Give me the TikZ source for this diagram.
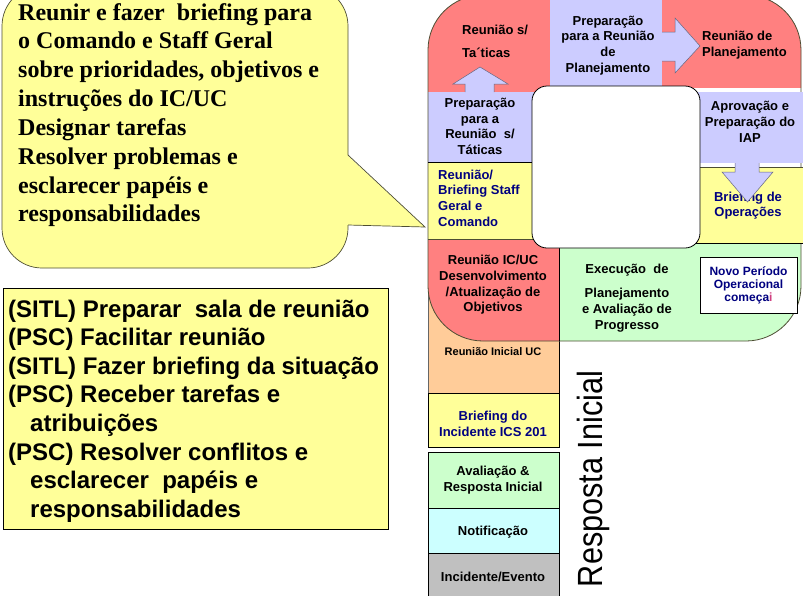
\documentclass[tikz,border=0pt]{standalone}
\usepackage{fontspec}
\usepackage{graphicx}
\setmainfont{Liberation Serif}
\newfontfamily\arialf{Liberation Sans}
\definecolor{redc}{HTML}{FF8080}
\definecolor{lav}{HTML}{CCCCFF}
\definecolor{yel}{HTML}{FFFF99}
\definecolor{grn}{HTML}{CCFFCC}
\definecolor{org}{HTML}{FFCC99}
\definecolor{cyn}{HTML}{CCFFFF}
\definecolor{gry}{HTML}{C0C0C0}
\definecolor{navyc}{HTML}{000080}
\definecolor{edge}{HTML}{4D4D33}
\definecolor{pinki}{HTML}{D04080}
\tikzset{
  lbl/.style={font=\arialf\bfseries\fontsize{13}{15.7}\selectfont, align=center, inner sep=0pt, text=black},
  stembox/.style={draw=black, line width=0.6pt},
  arrowline/.style={draw=lav!50!black, line width=0.5pt},
}
\begin{document}
\begin{tikzpicture}[x=1pt,y=-1pt]
\useasboundingbox (0,0) rectangle (803,595);
% ---------- callout ----------
\filldraw[fill=yel, draw=edge, line width=0.7pt, rounded corners=40pt] (2,-14) rectangle (348,268);
\fill[yel] (347,155) -- (425,227) -- (347,225) -- cycle;
\draw[edge, line width=0.7pt] (348,155) -- (425,227) -- (348,225);
\node[anchor=base west, inner sep=0pt, font=\bfseries\fontsize{24}{28.85}\selectfont] (calltext) at (18,20)
 {\vtop{\hbox{Reunir e fazer~ briefing para}\hbox{o Comando e Staff Geral}\hbox{sobre prioridades, objetivos e}\hbox{instruções do IC/UC}\hbox{Designar tarefas}\hbox{Resolver problemas e}\hbox{esclarecer papéis e}\hbox{responsabilidades}}};
% ---------- tasks box ----------
\filldraw[fill=yel, draw=black, line width=0.8pt] (3,288) rectangle (388,529);
\node[anchor=base west, inner sep=0pt, font=\arialf\bfseries\fontsize{24}{28.6}\selectfont] (tasks) at (8,317)
 {\vtop{\hbox{(SITL) Preparar~ sala de reunião}\hbox{(PSC) Facilitar reunião}\hbox{(SITL) Fazer briefing da situação}\hbox{(PSC) Receber tarefas e}\hbox{\hspace{22pt}atribuições}\hbox{(PSC) Resolver conflitos e}\hbox{\hspace{22pt}esclarecer~ papéis e}\hbox{\hspace{22pt}responsabilidades}}};
% ---------- stem ----------
\fill[org] (428,290) rectangle (559,393);
\draw[black!60, line width=0.6pt] (428,290) -- (428,393);
\draw[black, line width=0.6pt] (428,393) -- (559,393) -- (559,290);
\filldraw[fill=yel, stembox] (428,393) rectangle (559,447);
\filldraw[fill=grn, stembox] (428,452) rectangle (559,508);
\filldraw[fill=cyn, stembox] (428,508) rectangle (559,553);
\filldraw[fill=gry, stembox] (428,553) rectangle (559,600);
% ---------- ring ----------
\begin{scope}
\clip[rounded corners=55pt] (428,-5) rectangle (801,341);
\fill[redc] (428,-10) rectangle (550,92);
\fill[lav] (550,-10) rectangle (662,86);
\fill[redc] (662,-10) rectangle (810,88);
\fill[lav] (428,92) rectangle (545,162);
\fill[yel] (428,162) rectangle (545,239);
\fill[redc] (428,239) rectangle (559,345);
\fill[grn] (559,243) rectangle (810,345);
\end{scope}
\draw[edge, line width=0.8pt, rounded corners=55pt] (428,-5) rectangle (801,341);
\fill[lav] (690,92) rectangle (803,163);
\fill[yel] (685,168) rectangle (803,243);
\draw[edge, line width=0.6pt] (690,167.5) -- (803,167.5);
\draw[black, line width=0.6pt] (559,243) -- (803,243);
\draw[black, line width=0.6pt] (428,162) -- (540,162);
\draw[edge, line width=0.6pt] (428,239) -- (545,239);
\draw[black, line width=0.6pt] (559,243) -- (559,341);
% ---------- centre ----------
\node[draw=black, fill=white, line width=0.8pt, rounded corners=15pt, minimum width=168pt, minimum height=162pt, inner sep=0pt] (centre) at (616,167) {};
% ---------- arrows ----------
\fill[lav] (660,32) -- (675,32) -- (675,18) -- (700,46) -- (675,73) -- (675,61) -- (660,61) -- cycle;
\draw[arrowline] (662,32) -- (675,32) -- (675,18) -- (700,46) -- (675,73) -- (675,61) -- (662,61);
\fill[lav] (465,93) -- (465,84) -- (453,84) -- (480,67) -- (508,84) -- (494,84) -- (494,93) -- cycle;
\draw[arrowline] (465,92) -- (465,84) -- (453,84) -- (480,67) -- (508,84) -- (494,84) -- (494,92);
% ---------- labels ----------
\node[lbl, align=left, anchor=west] (rst) at (462,41.5) {Reunião s/\\[7.3pt]Ta´ticas};
\node[lbl] (prp) at (608,45.5) {Preparação\\para a Reunião\\de\\Planejamento};
\node[lbl, align=left, anchor=west] (rpl) at (702,45) {Reunião de\\Planejamento};
\node[lbl] (prt) at (480,126.5) {Preparação\\para a\\Reunião~ s/\\Táticas};
\node[lbl, text=navyc, align=left, anchor=west] (rbs) at (438,198) {Reunião/\\Briefing Staff\\Geral e\\Comando};
\node[lbl] (apr) at (750,122) {Aprovação e\\Preparação do\\IAP};
\node[lbl, text=navyc] (bop) at (748,205.5) {Briefing de\\Operações};
\fill[lav] (735,162) -- (735,172) -- (722,172) -- (747.5,202) -- (773,172) -- (759,172) -- (759,162) -- cycle;
\draw[arrowline] (735,163) -- (735,172) -- (722,172) -- (747.5,202) -- (773,172) -- (759,172) -- (759,163);
\node[lbl] (ric) at (493,285) {Reunião IC/UC\\Desenvolvimento\\/Atualização de\\Objetivos};
\node[lbl] (exe) at (627,298) {Execução~ de\\[9pt]Planejamento\\e Avaliação de\\Progresso};
\node[lbl, text=navyc, font=\arialf\bfseries\fontsize{12}{13}\selectfont, draw=black, fill=white, line width=0.6pt, minimum width=97pt, minimum height=56pt] (novo) at (748.5,285) {Novo Período\\Operacional\\começa{\color{pinki}i}};
\node[lbl, font=\arialf\bfseries\fontsize{11}{13}\selectfont] (rin) at (493,352) {Reunião Inicial UC};
\node[lbl, text=navyc] (bri) at (493,423.5) {Briefing do\\Incidente ICS 201};
\node[lbl] (ava) at (493,480) {Avaliação \&\\Resposta Inicial};
\node[lbl] (notif) at (493,532) {Notificação};
\node[lbl] (inc) at (493,577) {Incidente/Evento};
\node[rotate=90, anchor=base, inner sep=0pt, font=\arialf\fontsize{35}{35}\selectfont] (resp) at (602,479) {\scalebox{0.875}[1]{Resposta Inicial}};
\end{tikzpicture}
\end{document}
